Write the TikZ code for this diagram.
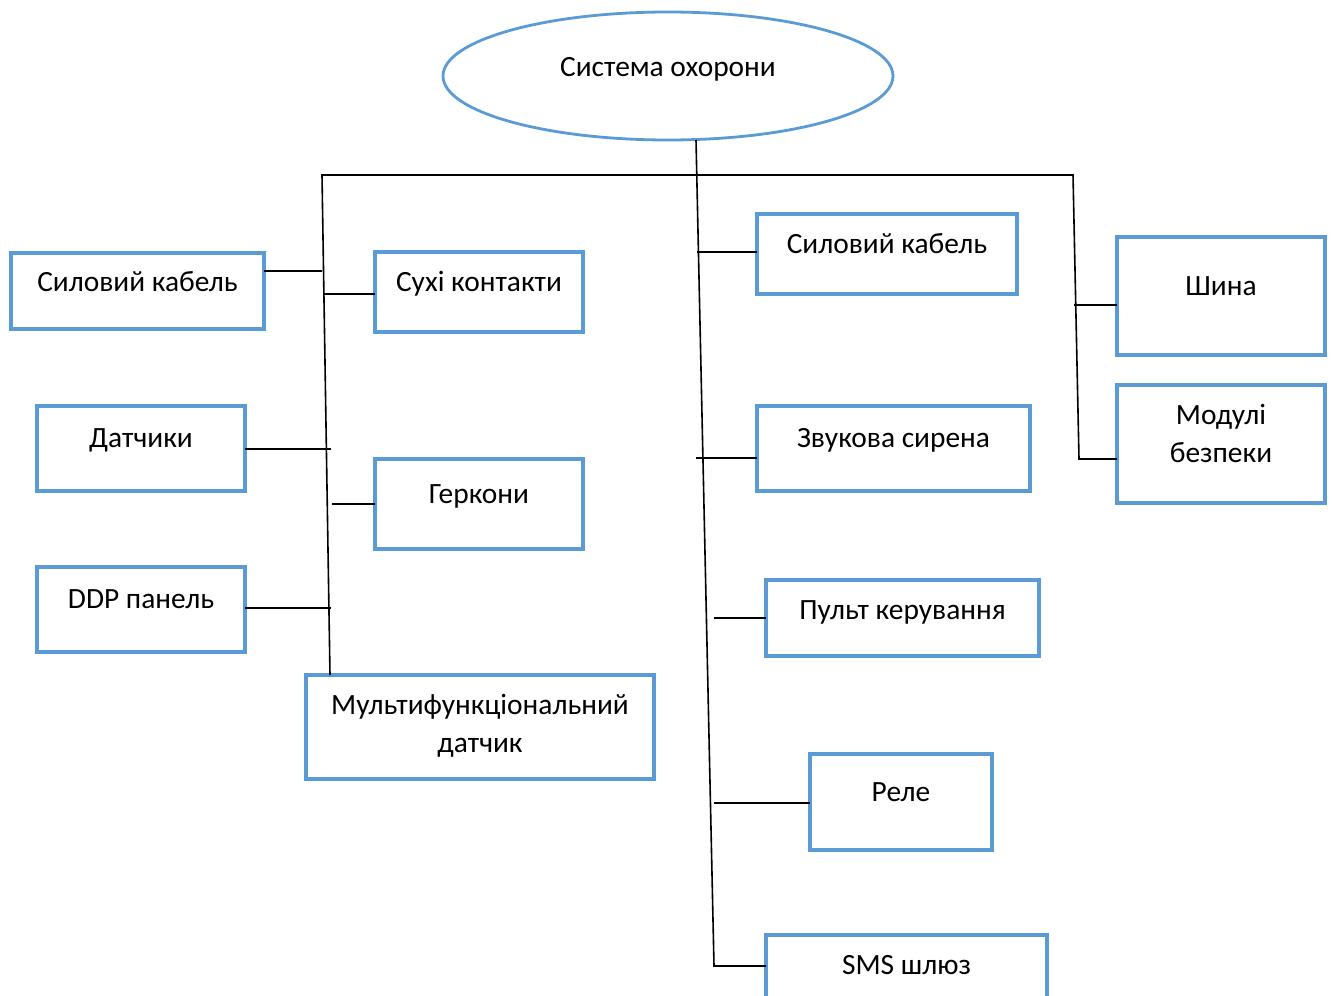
\documentclass[tikz,border=0pt]{standalone}
\usepackage{fontspec}
\setmainfont{Carlito}
\definecolor{boxblue}{RGB}{91,155,213}
\usetikzlibrary{shapes.geometric}

\begin{document}
\begin{tikzpicture}[
    x=0.5pt, y=-0.5pt,
    blk/.style={draw=boxblue, line width=1.6pt, anchor=north west, inner sep=0pt,
      outer sep=0pt, align=flush center, font=\fontsize{14.7pt}{19pt}\selectfont},
    oval/.style={draw=boxblue, line width=1.4pt, ellipse, inner sep=0pt,
      minimum width=225pt, minimum height=64pt, text height=8pt, text depth=7pt,
      font=\fontsize{14.7pt}{19pt}\selectfont},
    wire/.style={draw=black, line width=0.8pt},
  ]
    \useasboundingbox (0,0) rectangle (1332,995);

    \node[oval] (sys) at (668,76) {Система охорони};

    \node[blk, text width=126.5pt, text height=19pt, text depth=19pt] (sk1) at (11,253) {Силовий кабель};
    \node[blk, text width=104pt, text height=19.5pt, text depth=20.5pt] (sx) at (375,252) {Сухі контакти};
    \node[blk, text width=104pt, text height=20.5pt, text depth=22pt] (dt) at (37,406) {Датчики};
    \node[blk, text width=104pt, text height=22pt, text depth=23pt] (gk) at (375,459) {Геркони};
    \node[blk, text width=104pt, text height=20.5pt, text depth=22pt] (ddp) at (37,567) {DDP панель};
    \node[blk, text width=174pt, text height=19.5pt, text depth=32.5pt] (mf) at (306,675) {Мультифункціональний\\датчик};

    \node[blk, text width=130pt, text height=19.5pt, text depth=20.5pt] (sk2) at (757,214) {Силовий кабель};
    \node[blk, text width=136.5pt, text height=20.5pt, text depth=22pt] (zs) at (757,406) {Звукова сирена};
    \node[blk, text width=136.5pt, text height=19.5pt, text depth=18.5pt] (pk) at (766,580) {Пульт керування};
    \node[blk, text width=91pt, text height=23.5pt, text depth=24.5pt] (rl) at (810,754) {Реле};
    \node[blk, text width=140.5pt, text height=19.5pt, text depth=20.5pt] (sms) at (766,935) {SMS шлюз};

    \node[blk, text width=104pt, text height=29pt, text depth=30pt] (sh) at (1117,237) {Шина};
    \node[blk, text width=104pt, text height=19.5pt, text depth=39.5pt] (mb) at (1117,385) {Модулі\\безпеки};

    \coordinate (l0) at (322,175);
    \coordinate (l1) at (330,675);
    \coordinate (m0) at (696,140);
    \coordinate (m1) at (714,966);
    \coordinate (r0) at (1073,175);
    \coordinate (r1) at (1079,459);

    \draw[wire] (l1) -- (l0) -- (r0) -- (r1) -- (r1 -| mb.west);
    \draw[wire] (m0) -- (m1) -- (m1 -| sms.west);

    \coordinate (c1) at (322,271);
    \coordinate (c2) at (324,294);
    \coordinate (c3) at (331,449);
    \coordinate (c4) at (332,504);
    \coordinate (c5) at (331,608);
    \coordinate (c6) at (697,252);
    \coordinate (c7) at (696,458);
    \coordinate (c8) at (714,618);
    \coordinate (c9) at (714,803);
    \coordinate (c10) at (1074,305);

    \draw[wire] (c1) -- (c1 -| sk1.east);
    \draw[wire] (c2) -- (c2 -| sx.west);
    \draw[wire] (c3) -- (c3 -| dt.east);
    \draw[wire] (c4) -- (c4 -| gk.west);
    \draw[wire] (c5) -- (c5 -| ddp.east);
    \draw[wire] (c6) -- (c6 -| sk2.west);
    \draw[wire] (c7) -- (c7 -| zs.west);
    \draw[wire] (c8) -- (c8 -| pk.west);
    \draw[wire] (c9) -- (c9 -| rl.west);
    \draw[wire] (c10) -- (c10 -| sh.west);
  \end{tikzpicture}
\end{document}
